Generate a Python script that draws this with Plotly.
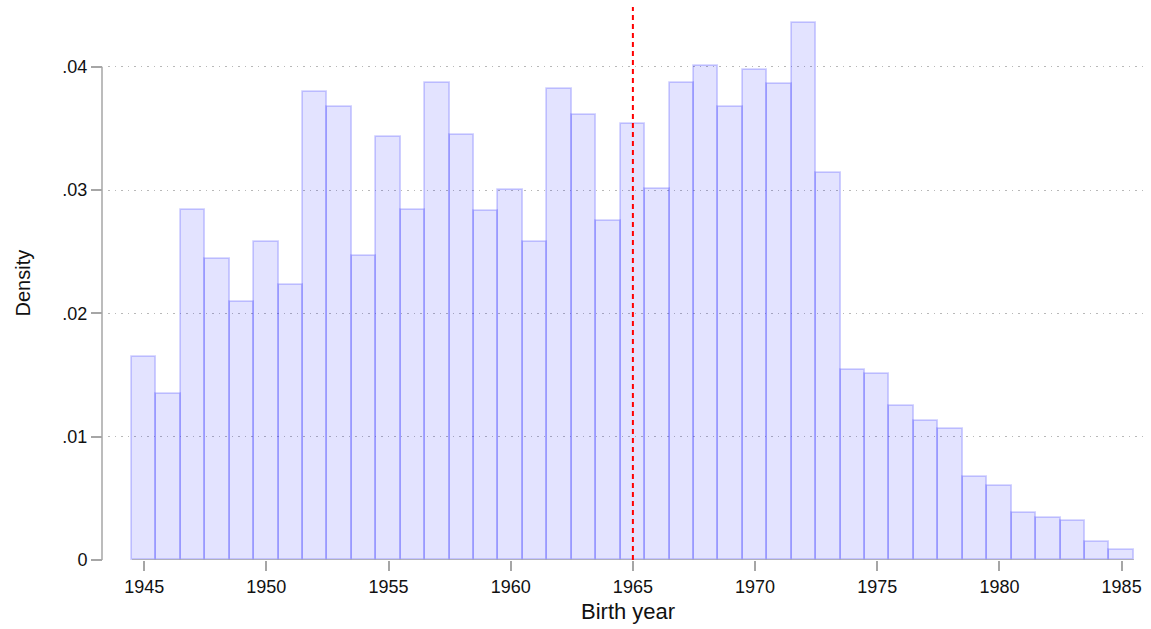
import plotly.graph_objects as go

# Data (one-year bins, density)
years = list(range(1945, 1986))
density = [
    0.01644, 0.01349, 0.02836, 0.02444, 0.02095, 0.02582, 0.02230, 0.03793,
    0.03671, 0.02468, 0.03433, 0.02839, 0.03871, 0.03447, 0.02833, 0.03003,
    0.02582, 0.03817, 0.03612, 0.02752, 0.03539, 0.03012, 0.03871, 0.04009,
    0.03671, 0.03977, 0.03858, 0.04353, 0.03141, 0.01543, 0.01511, 0.01251,
    0.01130, 0.01065, 0.00676, 0.00603, 0.00384, 0.00338, 0.00319, 0.00144,
    0.00084,
]
x_ticks = [1945, 1950, 1955, 1960, 1965, 1970, 1975, 1980, 1985]
y_ticks = [0, 0.01, 0.02, 0.03, 0.04]
y_tick_labels = ["0", ".01", ".02", ".03", ".04"]
cutoff_year = 1965
x_title = "Birth year"
y_title = "Density"

FONT = "Liberation Sans, Arial, sans-serif"
AXIS_GRAY = "#a6a6a6"

fig = go.Figure()
fig.add_trace(go.Bar(
    x=years, y=density, width=1,
    marker=dict(color="rgba(0,0,255,0.11)",
                line=dict(color="rgba(40,40,255,0.22)", width=1.8)),
    hoverinfo="x+y",
))

bin_lo = min(years) - 0.5
bin_hi = max(years) + 0.5

fig.update_layout(
    width=1151, height=629,
    margin=dict(l=102, r=3, t=7, b=69),
    paper_bgcolor="white", plot_bgcolor="white",
    showlegend=False, bargap=0,
    font=dict(family=FONT, size=18, color="#111111"),
    xaxis=dict(
        domain=[6 / 1046, 1],
        range=[1943.52, 1986.08],
        tickvals=x_ticks,
        ticks="outside", ticklen=10, tickwidth=1.5, tickcolor=AXIS_GRAY,
        showgrid=False, zeroline=False, showline=False,
        tickfont=dict(size=18),
    ),
    yaxis=dict(
        anchor="free", position=0,
        range=[0, 0.04485],
        tickvals=y_ticks, ticktext=y_tick_labels,
        ticks="outside", ticklen=11, tickwidth=1.5, tickcolor=AXIS_GRAY,
        showgrid=True, gridcolor="#b8b8b8", gridwidth=1, griddash="1.5px,5px",
        zeroline=False, showline=False,
        tickfont=dict(size=18),
    ),
    shapes=[
        # y axis line from 0 to top tick
        dict(type="line", xref="paper", yref="y", x0=0, x1=0,
             y0=y_ticks[0], y1=y_ticks[-1],
             line=dict(color=AXIS_GRAY, width=1.5), layer="above"),
        # x axis line spanning the bins
        dict(type="line", xref="x", yref="y", x0=bin_lo, x1=bin_hi, y0=0, y1=0,
             line=dict(color=AXIS_GRAY, width=1.5), layer="above"),
        # vertical reference line
        dict(type="line", xref="x", yref="y domain", x0=cutoff_year, x1=cutoff_year,
             y0=0, y1=1, line=dict(color="#ff0000", width=2, dash="5px,4px"),
             layer="above"),
    ],
    annotations=[
        dict(text=x_title, xref="x domain", yref="y domain", x=0.5, y=0,
             xanchor="center", yanchor="middle", yshift=-51, showarrow=False,
             font=dict(size=22)),
        dict(text=y_title, xref="paper", yref="y domain", x=0, y=0.5,
             xanchor="center", yanchor="middle", xshift=-80, textangle=-90,
             showarrow=False, font=dict(size=20)),
    ],
)

fig.write_html("out.html",
               config={"displayModeBar": False},
               post_script="document.body.style.margin='0';document.body.style.padding='0';")
